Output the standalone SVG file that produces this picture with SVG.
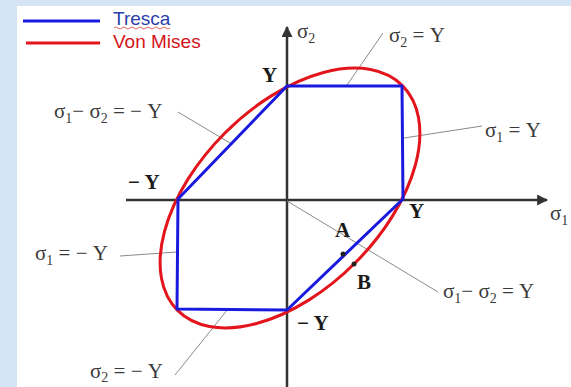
<svg xmlns="http://www.w3.org/2000/svg" width="571" height="387" viewBox="0 0 571 387">
<style>
.m{font-family:"Liberation Serif","Times New Roman",serif;font-size:21px;fill:#3a3a3a}
.s{font-size:14px}
.b{font-family:"Liberation Serif","Times New Roman",serif;font-size:21px;font-weight:bold;fill:#1a1a1a}
.lead{stroke:#8a8a8a;stroke-width:1;fill:none}
.ax{stroke:#333;stroke-width:2.5;fill:none}
.leg{font-family:"Liberation Sans",Arial,sans-serif;font-size:19px}
</style>
<defs>
<marker id="arr" viewBox="0 0 10 10" refX="9" refY="5" markerWidth="4.4" markerHeight="4.4" orient="auto" markerUnits="strokeWidth">
<path d="M0,0 L10,5 L0,10 z" fill="#333"/>
</marker>
</defs>
<rect x="0" y="0" width="571" height="387" fill="#d4e4f4"/>
<rect x="17" y="6" width="554" height="381" fill="#ffffff"/>
<g id="legend">
<line x1="23" y1="21" x2="100" y2="21" stroke="#1a1adf" stroke-width="3"/>
<line x1="26" y1="43" x2="100" y2="43" stroke="#e3141c" stroke-width="3"/>
<text class="leg" x="113" y="25" fill="#2a3fa8">Tresca</text>
<path d="M114,28 q2,-2 4,0 t4,0 t4,0 t4,0 t4,0 t4,0 t4,0 t4,0 t4,0 t4,0 t4,0 t4,0 t4,0 t4,0" stroke="#d04040" stroke-width="0.8" fill="none"/>
<text class="leg" x="113" y="48" fill="#d4141c">Von Mises</text>
</g>
<g id="connectors">
<line class="ax" x1="126" y1="200" x2="547" y2="200" marker-end="url(#arr)"/>
<line class="ax" x1="287" y1="387" x2="287" y2="27" marker-end="url(#arr)"/>
<line class="lead" x1="347" y1="85" x2="383" y2="33"/>
<line class="lead" x1="404" y1="138" x2="482" y2="126"/>
<line class="lead" x1="178" y1="112" x2="230" y2="143"/>
<line class="lead" x1="120" y1="256" x2="177" y2="252"/>
<line class="lead" x1="175" y1="375" x2="228" y2="309"/>
<line class="lead" x1="287" y1="201" x2="438" y2="292"/>
</g>
<g id="vonmises">
<ellipse cx="290" cy="198" rx="159" ry="92" transform="rotate(-45 290 198)" fill="none" stroke="#e3141c" stroke-width="3"/>
</g>
<g id="tresca">
<polygon points="287,86 402,86 403,199 287,310 177,309 178,199" fill="none" stroke="#1a1adf" stroke-width="3" stroke-linejoin="round"/>
</g>
<g id="points">
<circle cx="343" cy="254" r="2.5" fill="#222"/>
<circle cx="354" cy="264" r="2.5" fill="#222"/>
</g>
<g id="labels">
<text class="m" x="297" y="38">σ<tspan class="s" dy="5">2</tspan></text>
<text class="m" x="550" y="220">σ<tspan class="s" dy="5">1</tspan></text>
<text class="m" x="389" y="42">σ<tspan class="s" dy="5">2</tspan><tspan dy="-5"> = Y</tspan></text>
<text class="m" x="485" y="137">σ<tspan class="s" dy="5">1</tspan><tspan dy="-5"> = Y</tspan></text>
<text class="m" x="54" y="118">σ<tspan class="s" dy="5">1</tspan><tspan dy="-5">− σ</tspan><tspan class="s" dy="5">2</tspan><tspan dy="-5"> = − Y</tspan></text>
<text class="m" x="35" y="260">σ<tspan class="s" dy="5">1</tspan><tspan dy="-5"> = − Y</tspan></text>
<text class="m" x="90" y="378">σ<tspan class="s" dy="4">2</tspan><tspan dy="-4"> = − Y</tspan></text>
<text class="m" x="443" y="298">σ<tspan class="s" dy="5">1</tspan><tspan dy="-5">− σ</tspan><tspan class="s" dy="5">2</tspan><tspan dy="-5"> = Y</tspan></text>
<text class="b" x="262" y="82">Y</text>
<text class="b" x="128" y="189">− Y</text>
<text class="b" x="409" y="218">Y</text>
<text class="b" x="297" y="330">− Y</text>
<text class="b" x="335" y="237">A</text>
<text class="b" x="357" y="289">B</text>
</g>
</svg>
